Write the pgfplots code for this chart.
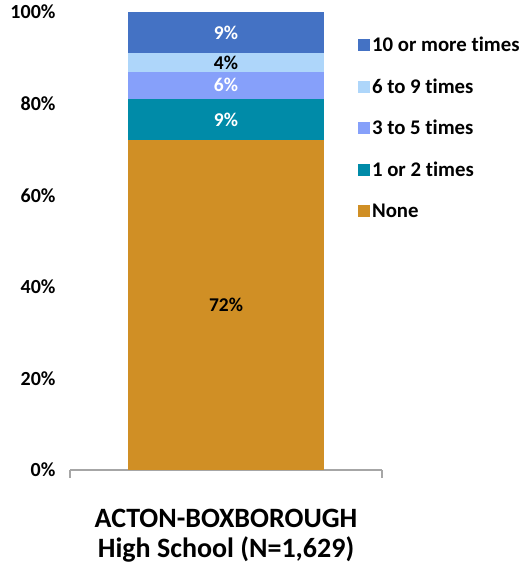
\documentclass[border=0pt]{standalone}
\usepackage{pgfplots}
\pgfplotsset{compat=1.18}
\usepackage{fontspec}
\setmainfont[Ligatures=NoCommon]{Carlito}
\definecolor{cNone}{HTML}{D08F25}
\definecolor{cOne}{HTML}{008BA8}
\definecolor{cThree}{HTML}{86A0FA}
\definecolor{cSix}{HTML}{AED6FA}
\definecolor{cTen}{HTML}{4472C4}
\definecolor{axgray}{HTML}{A6A6A6}
\newcommand\catlabel{ACTON-BOXBOROUGH\\High School (N=1,629)}
\begin{document}
\begin{tikzpicture}
\begin{axis}[
  name=ax,
  width=312pt, height=458pt, scale only axis,
  ybar stacked, bar width=195pt,
  xmin=0, xmax=1, ymin=0, ymax=100,
  axis x line*=bottom, axis y line*=left,
  x axis line style={draw=axgray, line width=2pt},
  y axis line style={draw=none},
  ytick={0,20,40,60,80,100},
  ytick style={draw=none},
  yticklabel={\pgfmathprintnumber{\tick}\%},
  /pgf/number format/assume math mode=true,
  yticklabel style={font=\bfseries\fontsize{20}{22}\selectfont, xshift=-3pt},
  xtick={0,1}, xticklabels={,},
  x tick style={draw=axgray, line width=2pt},
  tick align=outside, major tick length=8pt,
  extra x ticks={0.5},
  extra x tick labels={\catlabel},
  extra x tick style={major tick length=0pt, tick style={draw=none},
    tick label style={align=center, font=\bfseries\fontsize{28}{30}\selectfont, yshift=-36pt}},
  point meta=explicit symbolic,
  legend image code/.code={\fill[#1] (0pt,-6pt) rectangle (12pt,6pt);},
  reverse legend,
  legend style={at={(0.913,0.955)}, anchor=north west, draw=none, fill=none,
    font=\bfseries\fontsize{20.8}{22}\selectfont, row sep=21.7pt,
    cells={anchor=west}},
  nodes near coords,
  every node near coord/.append style={anchor=center, font=\bfseries\fontsize{19.5}{20}\selectfont},
]
\addplot[fill=cNone, draw=none, every node near coord/.append style={text=black}]
  coordinates {(0.5,72) [72\%]};
\addplot[fill=cOne, draw=none, every node near coord/.append style={text=white}]
  coordinates {(0.5,9) [9\%]};
\addplot[fill=cThree, draw=none, every node near coord/.append style={text=white}]
  coordinates {(0.5,6) [6\%]};
\addplot[fill=cSix, draw=none, every node near coord/.append style={text=black}]
  coordinates {(0.5,4) [4\%]};
\addplot[fill=cTen, draw=none, every node near coord/.append style={text=white}]
  coordinates {(0.5,9) [9\%]};
\legend{None,1 or 2 times,3 to 5 times,6 to 9 times,10 or more times}
\end{axis}
\pgfresetboundingbox
\path (ax.south west) ++(-70pt,-97pt) rectangle ++(523pt,567pt);
\end{tikzpicture}
\end{document}
